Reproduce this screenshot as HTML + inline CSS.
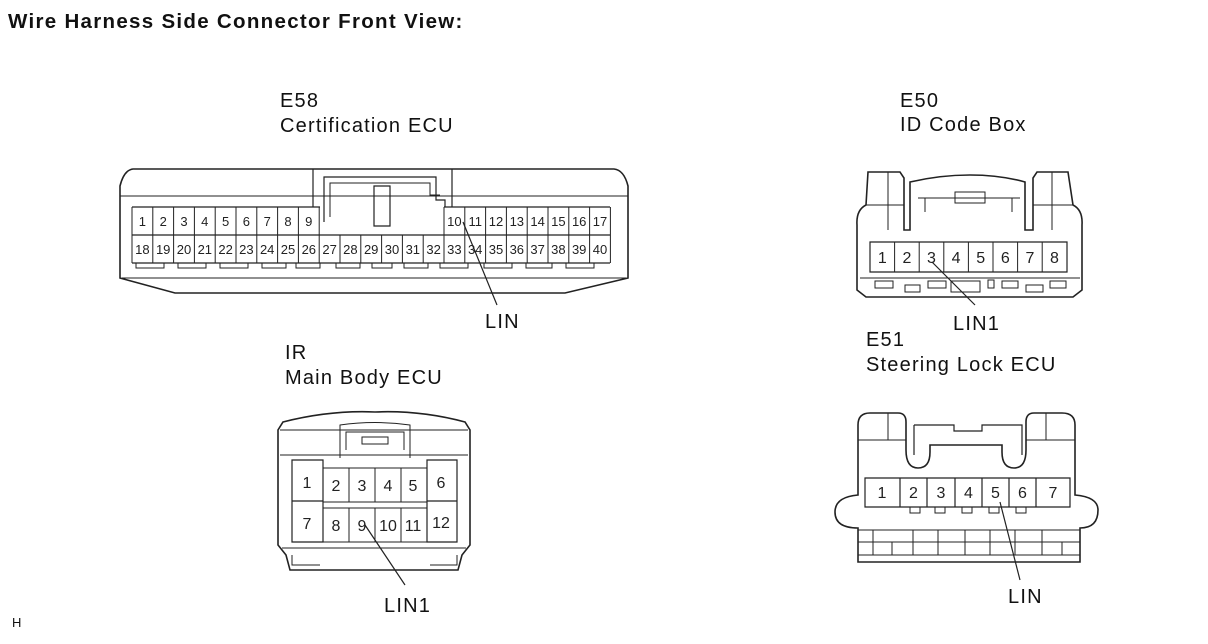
<!DOCTYPE html>
<html><head><meta charset="utf-8"><style>
html,body{margin:0;padding:0;background:#fff;}
svg{display:block;font-family:"Liberation Sans",Arial,sans-serif;}
.n{font-size:13px;text-anchor:middle;fill:#222;}
.m{font-size:16px;text-anchor:middle;fill:#222;}
.l{font-size:20px;fill:#111;letter-spacing:1.2px;}
</style></head><body>
<svg width="1208" height="644" viewBox="0 0 1208 644" xmlns="http://www.w3.org/2000/svg">
<text x="8" y="28" style="font-size:20.5px;font-weight:bold;letter-spacing:1.3px" fill="#111">Wire Harness Side Connector Front View:</text>
<text class="l" x="280" y="107">E58</text>
<text class="l" x="280" y="132">Certification ECU</text>
<text class="l" x="900" y="107">E50</text>
<text class="l" x="900" y="131">ID Code Box</text>
<text class="l" x="285" y="359">IR</text>
<text class="l" x="285" y="384">Main Body ECU</text>
<text class="l" x="866" y="346">E51</text>
<text class="l" x="866" y="371">Steering Lock ECU</text>
<text x="12" y="627" style="font-size:13px" fill="#111">H</text>

<g fill="none" stroke="#222" stroke-width="1.6">
<!-- E58 -->
<path d="M133,169 L614,169 Q624,170 628,186 L628,278 L565,293 L175,293 L120,278 L120,186 Q124,170 133,169 Z"/>
<path d="M120,196 L628,196" stroke-width="1"/>
<path d="M122,278 L626,278" stroke-width="1"/>
<path d="M313,169 L313,207 M452,169 L452,207" stroke-width="1.2"/>
<path d="M324,222 L324,177 L436,177 L436,200 L445,200 L445,207" stroke-width="1.2"/>
<path d="M330,217 L330,183 L430,183 L430,195 L440,195" stroke-width="1"/>
<path d="M374,186 L374,226 L390,226 L390,186 Z" stroke-width="1.2"/>
<path d="M132,207 H320 M132,235 H610 M132,263 H610 M444,207 H610" stroke-width="1.2"/>
<path d="M132,207 V263 M152.8,207 V263 M173.6,207 V263 M194.4,207 V263 M215.2,207 V263 M236,207 V263 M256.8,207 V263 M277.6,207 V263 M298.4,207 V263 M319.2,207 V263 M340,235 V263 M360.8,235 V263 M381.6,235 V263 M402.4,235 V263 M423.2,235 V263 M444,207 V263 M464.8,207 V263 M485.6,207 V263 M506.4,207 V263 M527.2,207 V263 M548,207 V263 M568.8,207 V263 M589.6,207 V263 M610.4,207 V263" stroke-width="1"/>
<path d="M136,263 V268 H164 V263 M178,263 V268 H206 V263 M220,263 V268 H248 V263 M262,263 V268 H286 V263 M296,263 V268 H320 V263 M336,263 V268 H360 V263 M372,263 V268 H392 V263 M404,263 V268 H428 V263 M440,263 V268 H468 V263 M484,263 V268 H512 V263 M526,263 V268 H552 V263 M566,263 V268 H594 V263" stroke-width="1"/>
<path d="M463,222 L497,305" stroke-width="1.2"/>
<!-- E50 -->
<path d="M868,172 L900,172 L904,178 L904,230 L910,230 L910,182 Q940,175 970,175 Q1000,175 1025,182 L1025,230 L1033,230 L1033,178 L1037,172 L1068,172 L1073,205 Q1083,210 1082,225 L1082,290 L1073,297 L866,297 L857,290 L857,225 Q856,210 866,205 Z"/>
<path d="M888,172 V230 M1052,172 V230 M866,205 H904 M1033,205 H1073" stroke-width="1"/>
<path d="M918,198 H1020 M925,198 V212 M1012,198 V212 M955,192 H985 V203 H955 Z" stroke-width="1"/>
<path d="M870,242 H1067 V272 H870 Z" stroke-width="1.2"/>
<path d="M894.6,242 V272 M919.2,242 V272 M943.8,242 V272 M968.4,242 V272 M993,242 V272 M1017.6,242 V272 M1042.2,242 V272" stroke-width="1"/>
<path d="M860,278 H1080" stroke-width="1"/>
<path d="M875,281 H893 V288 H875 Z M905,285 H920 V292 H905 Z M928,281 H946 V288 H928 Z M951,281 H980 V292 H951 Z M988,280 H994 V288 H988 Z M1002,281 H1018 V288 H1002 Z M1026,285 H1043 V292 H1026 Z M1050,281 H1066 V288 H1050 Z" stroke-width="1"/>
<path d="M932,262 L975,305" stroke-width="1.2"/>
<!-- IR -->
<path d="M283,422 Q330,410 375,412 Q420,410 465,422 L470,430 L470,545 L462,555 L458,570 L290,570 L286,555 L278,545 L278,430 Z"/>
<path d="M280,430 H468 M280,455 H468 M282,548 H466" stroke-width="1"/>
<path d="M340,458 V425 Q375,420 410,425 V458" stroke-width="1"/>
<path d="M346,450 V432 H404 V450" stroke-width="1"/>
<path d="M362,437 H388 V444 H362 Z" stroke-width="1"/>
<path d="M292,460 H323 V542 H292 Z M427,460 H457 V542 H427 Z M292,501 H323 M427,501 H457" stroke-width="1.2"/>
<path d="M323,468 H427 M323,502 H427 M323,508 H427 M323,542 H427 M349,468 V502 M375,468 V502 M401,468 V502 M349,508 V542 M375,508 V542 M401,508 V542" stroke-width="1"/>
<path d="M292,555 V565 H320 M457,555 V565 H430" stroke-width="1"/>
<path d="M365,525 L405,585" stroke-width="1.2"/>
<!-- E51 -->
<path d="M870,413 L898,413 Q906,413 906,422 L906,450 Q906,468 918,468 Q930,468 930,452 L930,445 L1002,445 L1002,452 Q1002,468 1014,468 Q1026,468 1026,450 L1026,422 Q1026,413 1034,413 L1062,413 Q1075,413 1075,425 L1075,495 Q1098,497 1098,510 Q1098,528 1080,528 L1080,562 L858,562 L858,528 Q835,528 835,512 Q835,497 858,495 L858,425 Q858,413 870,413 Z"/>
<path d="M888,413 V440 M1046,413 V440 M858,440 H906 M1026,440 H1075" stroke-width="1"/>
<path d="M914,425 H954 V431 H982 V425 H1022 V455 M914,425 V455 M954,425 V431 M982,425 V431" stroke-width="1.2"/>
<path d="M865,478 H1070 V507 H865 Z M900,478 V507 M927,478 V507 M955,478 V507 M982,478 V507 M1009,478 V507 M1036,478 V507" stroke-width="1.2"/>
<path d="M910,507 V513 H920 V507 M935,507 V513 H945 V507 M962,507 V513 H972 V507 M989,507 V513 H999 V507 M1016,507 V513 H1026 V507" stroke-width="1"/>
<path d="M858,530 H1080 M858,542 H1080 M873,530 V555 H892 V542 M913,530 V555 M938,530 V555 M965,530 V555 M990,530 V555 M1015,530 V555 M1042,530 V555 H1062 V542 M1080,555 H858" stroke-width="1"/>
<path d="M1000,502 L1020,580" stroke-width="1.2"/>
</g>

<g class="n">
<text x="142.4" y="226">1</text><text x="163.2" y="226">2</text><text x="184" y="226">3</text><text x="204.8" y="226">4</text><text x="225.6" y="226">5</text><text x="246.4" y="226">6</text><text x="267.2" y="226">7</text><text x="288" y="226">8</text><text x="308.8" y="226">9</text>
<text x="454.4" y="226">10</text><text x="475.2" y="226">11</text><text x="496" y="226">12</text><text x="516.8" y="226">13</text><text x="537.6" y="226">14</text><text x="558.4" y="226">15</text><text x="579.2" y="226">16</text><text x="600" y="226">17</text>
<text x="142.4" y="254">18</text><text x="163.2" y="254">19</text><text x="184" y="254">20</text><text x="204.8" y="254">21</text><text x="225.6" y="254">22</text><text x="246.4" y="254">23</text><text x="267.2" y="254">24</text><text x="288" y="254">25</text><text x="308.8" y="254">26</text><text x="329.6" y="254">27</text><text x="350.4" y="254">28</text><text x="371.2" y="254">29</text><text x="392" y="254">30</text><text x="412.8" y="254">31</text><text x="433.6" y="254">32</text><text x="454.4" y="254">33</text><text x="475.2" y="254">34</text><text x="496" y="254">35</text><text x="516.8" y="254">36</text><text x="537.6" y="254">37</text><text x="558.4" y="254">38</text><text x="579.2" y="254">39</text><text x="600" y="254">40</text>
</g>
<g class="m">
<text x="882.3" y="263">1</text><text x="906.9" y="263">2</text><text x="931.5" y="263">3</text><text x="956.1" y="263">4</text><text x="980.7" y="263">5</text><text x="1005.3" y="263">6</text><text x="1029.9" y="263">7</text><text x="1054.5" y="263">8</text>
<text x="307" y="488">1</text><text x="336" y="491">2</text><text x="362" y="491">3</text><text x="388" y="491">4</text><text x="413" y="491">5</text><text x="441" y="488">6</text>
<text x="307" y="529">7</text><text x="336" y="531">8</text><text x="362" y="531">9</text><text x="388" y="531">10</text><text x="413" y="531">11</text><text x="441" y="528">12</text>
<text x="882" y="498">1</text><text x="913.5" y="498">2</text><text x="941" y="498">3</text><text x="968.5" y="498">4</text><text x="995.5" y="498">5</text><text x="1022.5" y="498">6</text><text x="1053" y="498">7</text>
</g>
<g class="l">
<text x="485" y="328">LIN</text>
<text x="953" y="330">LIN1</text>
<text x="384" y="612">LIN1</text>
<text x="1008" y="603">LIN</text>
</g>
</svg>
</body></html>
